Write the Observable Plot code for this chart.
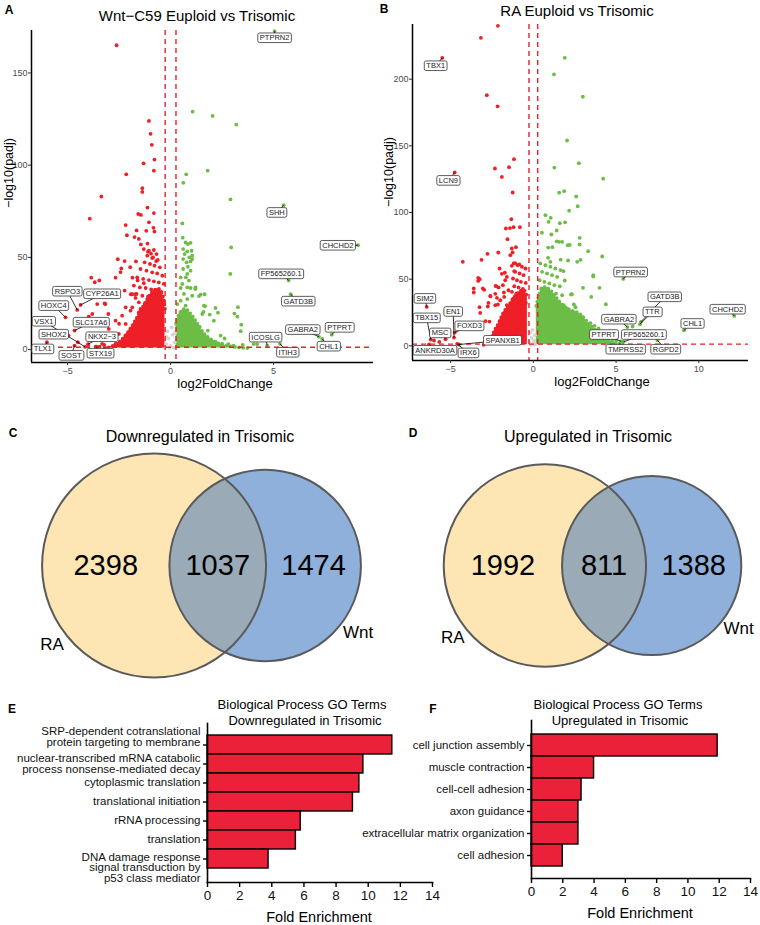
<!DOCTYPE html>
<html><head><meta charset="utf-8">
<script src="https://cdn.jsdelivr.net/npm/d3@7"></script>
<script src="https://cdn.jsdelivr.net/npm/@observablehq/plot@0.6"></script>
<style>
body{margin:0;background:#fff;}
#fig{position:relative;width:760px;height:925px;background:#fff;font-family:"Liberation Sans",Arial,Helvetica,sans-serif;overflow:hidden}
.t{position:absolute;white-space:nowrap;transform:translate(-50%,-50%);color:#000;line-height:1}
.r{transform:translate(-50%,-50%) rotate(-90deg)}
.b{font-weight:bold}
.p{position:absolute}
</style></head><body><div id="fig"></div>
<script>
// ---------- DATA ----------
// Panel A (Wnt-C59): [log2FoldChange, -log10(padj)]
const aDown = [
[-2.62,165],[-1.05,124],[-0.97,117],[-0.91,111],[-0.78,103],[-1.31,101],[-0.81,97],[-2.15,95],[-1.37,87.5],[-1.37,85.5],
[-3.36,83],[-3.92,71],[-1.12,77],[-1.57,73.5],[-1.44,73],[-0.81,74],[-1.05,69],[-2.18,67.5],[-1.65,64.6],[-0.83,66],
[-0.78,64],[-2.12,62],[-1.75,61],[-1.54,60],[-1.18,64.4],[-1.12,57.5],[-1.44,57],[-2.56,49],[-2.23,48],[-1.68,47.8],
[-2.39,44],[-1.96,44.7],[-2.67,39],[-3.85,39],[-3.46,37.5],[-3.68,36.5],[-3.2,25],[-1.93,30],[-1.71,30],[-2.23,32],
[-2.43,42],[-1.1,53],[-0.95,52],[-0.85,50],[-0.7,48],[-1.85,39],[-1.6,37.5],[-1.3,36],
[-1.30,54.5],[-1.05,53.6],[-0.81,54.0],[-0.68,51.8],[-1.13,50.9],[-0.89,49.6],[-0.62,48.6],[-1.26,47.3],[-1.0,46.4],[-0.78,45.5],
[-0.52,44.6],[-1.46,43.7],[-1.17,42.8],[-0.89,41.9],[-0.65,41.3],[-0.40,40.1],[-1.62,39.1],[-1.33,38.3],[-1.05,37.7],[-0.81,37.0],
[-0.57,36.4],[-0.33,35.6],[-1.78,34.7],[-1.49,33.7],[-1.21,33.4],[-0.94,32.6],[-0.68,31.9],[-0.45,31.2],[-1.65,30.2],[-1.37,29.2],
[-1.10,28.7],[-0.84,28.0],[-0.62,27.2],[-0.35,26.5],[-1.54,25.6],[-1.26,24.7],[-0.97,24.4],[-0.73,23.8],[-0.49,23.3],[-1.86,22.9],
[-1.46,22.0],[-1.13,21.5],
[-3.16,24.7],[-2.59,29.2],[-1.86,30],[-1.7,28],[-2.18,22.9],[-1.94,21.1],[-2.35,18.4],[-1.54,20.2],[-2.67,15.7],[-2.18,13.9],
[-1.86,11.2],[-3.0,11.2],[-2.51,8.5],[-1.54,6.7],[-2.83,5.8],[-2.18,4.0],[-3.32,3.1],[-3.56,24.7],[-3.02,19.3],[-3.8,19.3],
[-3.97,17.9],[-4.5,4],[-4.0,2.5],[-3.64,1.6],[-3.45,1.6],[-2.67,3.1],[-2.18,7.6],[-2.5,14],[-2.88,6.7],[-3.22,2.5]
];
const aUp = [
[1.07,129],[2.04,126.7],[3.19,122],[0.76,95],[1.8,97],[0.62,90.4],[2.91,81.4],[0.57,68.4],[0.59,60.7],[2.94,55.4],
[2.9,41],[3.27,23],[2.18,22.6],[1.67,23.5],[1.38,29],[1.65,30],[1.2,33],
[0.73,58.1],[0.84,57.2],[0.97,57.9],[0.61,54.5],[0.81,53.2],[0.68,51.8],[1.02,53.6],[0.91,50],[0.61,49.1],[0.78,47.3],
[1.05,49.1],[0.84,44.9],[0.61,43.7],[0.97,42.8],[0.49,39.1],[0.74,39.1],[0.89,37.4],[0.57,35.6],[0.81,33.7],[0.49,33.4],
[0.97,33.4],[1.21,33.7],[0.65,30.2],[1.05,29.2],[0.81,27.4],[0.49,26.5],[1.46,29.8],[0.33,24.7],[0.73,23.8],[1.62,23.8],
[1.21,32.9],[0.81,41],[0.97,47.8],[1.05,50.9],
[2.43,7.6],[2.62,6],[3.24,17.9],[3.43,13.5],[3.4,10],[2.2,4],[2.0,4.5],[1.7,5],[4.2,3],[3.06,2.2],
[3.5,2.6],[4.03,3],[1.54,19.3],[2.1,15.7],[1.4,12.5],[1.81,10.3],[2.8,3],[2.5,3.2],[1.6,20.5],[1.9,19],[2.3,20],[3.1,19.5]
];
const aNS = [[-0.2,3],[-0.1,6],[0,2],[0.1,8],[0.2,4],[-0.15,10],[0.05,12],[0.15,1],[-0.05,1],[-0.22,7],[0.22,9]];
// upper edge of the dense point clouds
const aDownCloud = [[-3.2,0.8],[-2.8,2],[-2.4,5],[-2.1,9],[-1.8,14],[-1.5,20],[-1.2,26],[-0.9,31],[-0.6,33],[-0.4,30],[-0.27,22]];
const aUpCloud = [[0.27,14],[0.45,20],[0.7,22],[1.0,19],[1.3,14],[1.6,9],[1.9,6],[2.3,3.5],[2.8,2],[3.3,1.2],[3.8,0.8]];
const aGenes = ["PTPRN2","SHH","CHCHD2","FP565260.1","GATD3B","RSPO3","CYP26A1","HOXC4","VSX1","SLC17A6","SHOX2","NKX2−3","TLX1","SOST","STX19","ICOSLG","ITIH3","GABRA2","PTPRT","CHL1"];
const aGeneFC = [5.05,5.49,9.1,5.73,5.83,-4.53,-4.37,-5.1,-4.15,-4.66,-4.95,-4.0,-6.0,-4.66,-3.6,4.69,5.31,7.2,7.82,7.36];
const aGeneP  = [172.7,78.3,56.6,37.5,30,21.5,24.2,17.5,1.5,10.3,7.6,3,4,2.2,1.6,2.2,3.1,7,8.1,5.8];

// Panel B (RA)
const bDown = [
[-2.14,240],[-3.17,231],[-2.81,188],[-2.16,179.6],[-2.32,133],[-1.47,134],[-1.17,140],[-1.9,126.7],[-1.25,115],[-1.33,95],
[-1.66,88],[-1.41,88.3],[-1.19,89],[-0.81,89],[-1.56,80],[-1.05,74],[-4.26,63],[-2.77,69],[-2.12,70],[-3.13,64.5],
[-1.39,68],[-1.3,73],[-1.25,70],[-2.04,58],[-1.9,54],[-3.33,51],[-3.33,48.7],[-3.6,43],[-3.6,40],[-3.05,43],
[-2.24,44.6],[-2.6,37.5],[-2.2,36],[-1.78,40],[-1.3,60],[-1.15,56],[-1.1,62],[-0.85,61],[-3.25,29],[-2.75,29.5],
[-2.14,31],[-3.8,15.4],[-6.0,4],[-2.71,32.2],[-2.59,37.2],[-2.3,39],[-2.1,43.8],[-1.72,54.8],[-1.7,49.2],[-1.84,45.5],
[-1.5,41.7],[-1.6,51.7],[-1.76,36.7],[-2.0,34.2],[-2.3,30.5],[-1.6,30.5],[-3.24,50],[-2.97,42],[-2.28,45],[-3.21,24.7],
[-2.89,18.6],[-2.65,18.2],[-5.68,2.9],
[-1.19,61.8],[-0.95,60.5],[-0.69,59.3],[-0.48,58.0],[-1.09,55.5],[-0.83,54.3],[-0.59,53.0],[-1.23,50.5],[-0.99,49.2],[-0.75,48.0],
[-0.46,47.2],[-1.15,44.7],[-0.89,43.8],[-0.63,42.7],[-1.29,40.5],[-1.03,39.2],[-0.79,38.2],[-0.53,37.2],[-1.19,35.5],[-0.95,34.2],
[-0.69,32.9],[-0.45,32.2],[-1.09,30.5],[-0.83,29.2],[-0.59,28.0],[-1.27,28.0]
];
const bUp = [
[1.9,216],[1.25,203.6],[2.99,186.8],[2.04,154],[2.75,137],[1.27,133.7],[4.22,125.4],[1.56,114.9],[1.86,116],[2.59,112],
[2.68,104.7],[2.16,101.4],[0.73,98],[1.05,96],[0.92,93],[1.6,92],[1.92,92.6],[0.52,84.8],[1.09,83.5],[1.41,86.5],
[1.41,78.4],[1.55,78],[2.8,81],[2.8,76],[2.2,75.7],[3.31,71],[4.16,67],[0.9,73.7],[1.15,74],[0.89,66],
[1.03,63],[1.65,64.7],[2.85,64.5],[2.65,63],[2.08,75.5],[1.74,78],[2.1,64],[1.82,56],[3.62,53],[3.62,52],
[3.0,43.5],[3.5,36.7],[4.0,43.5],[4.38,31.2],[2.28,38.5],[2.33,38.7],[2.45,31],[2.55,29],[1.9,49],
[3.45,17],[3.7,15],[3.94,13],[2.75,19],[2.85,23],[6.0,14.5],[4.5,8],[4.8,5],[5.0,4],[4.2,10],
[0.42,61.8],[0.73,60.5],[1.03,59.3],[1.33,58.0],[1.64,56.8],[0.53,55.5],[0.83,54.3],[1.13,53.0],[1.44,51.7],[0.38,49.2],
[0.67,48.0],[0.97,46.8],[1.27,45.5],[1.6,44.7],[0.48,43.0],[0.77,41.7],[1.07,40.5],[1.37,39.2],[1.74,38.0],[0.34,36.7],
[0.63,35.5],[0.93,34.2],[1.23,32.9],[1.54,31.7],[1.84,30.5],[0.42,30.5],[0.73,29.2],[1.03,28.0],[2.04,28.0]
];
const bNS = [[-0.25,3],[-0.1,6],[0,2],[0.1,8],[0.05,4],[-0.2,10],[-0.05,12],[0.1,1],[-0.15,1]];
const bDownCloud = [[-3.0,0.8],[-2.6,4],[-2.4,10],[-2.1,17],[-1.8,25],[-1.5,30],[-1.2,36],[-0.9,40],[-0.6,42],[-0.36,36]];
const bUpCloud = [[0.18,30],[0.4,40],[0.7,44],[1.0,42],[1.4,36],[1.8,30],[2.2,27],[2.8,24],[3.4,16],[4.0,9],[4.6,4],[5.2,0.8]];
const bGenes = ["TBX1","LCN9","SIM2","TBX15","EN1","FOXD3","MSC","SPANXB1","ANKRD30A","IRX6","PTPRN2","GATD3B","TTR","GABRA2","CHL1","CHCHD2","PTPRT","FP565260.1","TMPRSS2","RGPD2"];
const bGeneFC = [-5.5,-4.75,-6.44,-6.2,-4.79,-4.75,-5.3,-4.5,-6.3,-4.6,5.43,6.5,6.44,5.68,9.1,12.14,5.31,5.45,5.2,7.5];
const bGeneP  = [216,130,29.2,4.7,6.2,10,5,1,1,1.5,50.2,18,16.2,14.1,11.6,22.4,3.4,3.0,1.5,4.1];

const fcCutoff = [-0.263, 0.263];
const padjCutoff = 1.3;
const aXTicks = [-5,0,5], aYTicks = [0,50,100,150];
const bXTicks = [-5,0,5,10], bYTicks = [0,50,100,150,200];

// Venn counts: [RA only, both, Wnt only]
const vennSets = ["RA","Wnt"];
const cCounts = [2398,1037,1474];
const dCounts = [1992,811,1388];

// GO bars
const eTerms = ["SRP-dependent cotranslational\nprotein targeting to membrane","nuclear-transcribed mRNA catabolic\nprocess nonsense-mediated decay","cytoplasmic translation","translational initiation","rRNA processing","translation","DNA damage response\nsignal transduction by\np53 class mediator"];
const eFold = [11.5,9.7,9.45,9.05,5.8,5.5,3.8];
const fTerms = ["cell junction assembly","muscle contraction","cell-cell adhesion","axon guidance","extracellular matrix organization","cell adhesion"];
const fFold = [11.9,4.0,3.2,3.0,3.0,2.0];
const barTicks = [0,2,4,6,8,10,12,14];

// ---------- LAYOUT / STYLE ----------
const FONT = "'Liberation Sans', Arial, Helvetica, sans-serif";
const RED = "#ee1f26", GREEN = "#6bbd45", GRAY = "#d4d4d4", BAR = "#eb2039";
const YEL = "#fde5b4", BLU = "#8fb0db", OVL = "#9aaab6";
// repelled label positions (data units)
const aLabelAt = [[5.05,169],[5.16,74.3],[8.12,56.5],[5.37,41],[6.2,26.2],[-5.01,31.6],[-3.32,30.2],[-5.67,23.8],[-6.15,15.3],[-3.85,14.8],[-5.67,8.3],[-3.33,6.9],[-6.2,0.3],[-4.82,-3.2],[-3.4,-2],[4.61,6.7],[5.69,-1.5],[6.42,10.8],[8.2,12],[7.68,1.8]];
const bLabelAt = [[-5.9,210],[-5.13,124],[-6.55,35.5],[-6.44,20.9],[-4.84,25.7],[-3.86,14.9],[-5.64,9.6],[-1.86,4.1],[-5.94,-3.4],[-3.92,-5.4],[5.88,55.3],[7.94,36.7],[7.19,25.4],[5.17,19.9],[9.62,16.7],[11.74,27.4],[4.26,8.4],[6.68,8.4],[5.58,-2.6],[8.0,-2.6]];
// vertical nudges (px) of the GO term labels relative to their bar
const eLabelNudge = [-8,0,0,0,0,0,9];
const fLabelNudge = [0,0,0,0,0,0];

const fig = document.getElementById("fig");
function place(el, left, top) {
  const d = document.createElement("div");
  d.className = "p"; d.style.left = left + "px"; d.style.top = top + "px";
  d.appendChild(el); fig.appendChild(d); return el;
}
function txt(s, x, y, size, cls = "") {
  const d = document.createElement("div");
  d.className = "t " + cls; d.textContent = s;
  d.style.left = x + "px"; d.style.top = y + "px"; d.style.fontSize = size + "px";
  fig.appendChild(d);
}
const pts = arr => arr.map(([x, y]) => ({x, y}));

function volcano(o) {
  const genes = o.genes.map((g, i) => ({g, x: o.gfc[i], y: o.gp[i], lx: o.lab[i][0], ly: o.lab[i][1]}));
  const cloud = arr => arr.map(([x, y]) => ({x, y1: 0.8, y2: y}));
  const dC = cloud(o.downCloud), uC = cloud(o.upCloud);
  const [x0] = o.xd, [y0] = o.yd;
  const bead = c => ({x: "x", y: "y2", stroke: c, strokeWidth: 3.8, strokeLinecap: "round", strokeDasharray: "0,4.2", curve: "monotone-x"});
  return Plot.plot({
    width: 380, height: 395,
    marginTop: o.m[0], marginRight: o.m[1], marginBottom: o.m[2], marginLeft: o.m[3],
    x: {domain: o.xd}, y: {domain: o.yd},
    style: {fontFamily: FONT, background: "transparent", overflow: "visible"},
    marks: [
      Plot.areaY(dC, {x: "x", y1: "y1", y2: "y2", fill: RED, curve: "monotone-x"}),
      Plot.areaY(uC, {x: "x", y1: "y1", y2: "y2", fill: GREEN, curve: "monotone-x"}),
      Plot.lineY(dC, bead(RED)),
      Plot.lineY(uC, bead(GREEN)),
      Plot.dot(pts(o.ns), {x: "x", y: "y", r: 1.9, fill: GRAY}),
      Plot.dot(pts(o.down), {x: "x", y: "y", r: 1.9, fill: RED}),
      Plot.dot(pts(o.up), {x: "x", y: "y", r: 1.9, fill: GREEN}),
      Plot.dot(genes, {x: "x", y: "y", r: 1.9, fill: d => d.x < 0 ? RED : GREEN}),
      Plot.ruleX(fcCutoff, {stroke: RED, strokeWidth: 1.4, strokeDasharray: "5,4"}),
      Plot.ruleY([padjCutoff], {stroke: RED, strokeWidth: 1.4, strokeDasharray: "5,4"}),
      Plot.ruleX([x0], {stroke: "black", strokeWidth: 1.5}),
      Plot.ruleY([y0], {stroke: "black", strokeWidth: 1.5}),
      Plot.axisX({ticks: o.xt, tickSize: 3, tickPadding: 2, fontSize: 9, fill: "#4d4d4d", stroke: "#333", label: null}),
      Plot.axisY({ticks: o.yt, tickSize: 3, tickPadding: 1, fontSize: 9, fill: "#4d4d4d", stroke: "#333", label: null}),
      Plot.link(genes, {x1: "x", y1: "y", x2: "lx", y2: "ly", stroke: "black", strokeWidth: 0.8}),
      Plot.text(genes, {x: "lx", y: "ly", text: "g", fontSize: 7.5, fill: "#1a1a1a", ariaLabel: "gene-labels"})
    ]
  });
}
function boxLabels(svg) {
  const set = new Set([...svg.querySelectorAll('text[aria-label="gene-labels"], [aria-label="gene-labels"] text, g[aria-label="text"] text')]);
  set.forEach(t => {
    const b = t.getBBox();
    const r = document.createElementNS("http://www.w3.org/2000/svg", "rect");
    r.setAttribute("x", b.x - 2); r.setAttribute("y", b.y - 0.3);
    r.setAttribute("width", b.width + 4); r.setAttribute("height", b.height + 0.6);
    r.setAttribute("rx", 1.8); r.setAttribute("fill", "white");
    r.setAttribute("stroke", "#333"); r.setAttribute("stroke-width", 0.8);
    if (t.getAttribute("transform")) r.setAttribute("transform", t.getAttribute("transform"));
    t.parentNode.insertBefore(r, t);
  });
}

const R_MAX = 1.911 * Math.sqrt(4000);
function venn(counts, midX, cy, id) {
  const [a, ab, b] = counts;
  const t1 = a + ab, t2 = b + ab;
  const rS = d3.scaleSqrt().domain([0, 4000]).range([0, R_MAX]);
  const r1 = rS(t1), r2 = rS(t2);
  const target = Math.PI * r1 * r1 * ab / t1;
  const lens = d => {
    const A1 = r1 * r1 * Math.acos((d * d + r1 * r1 - r2 * r2) / (2 * d * r1));
    const A2 = r2 * r2 * Math.acos((d * d + r2 * r2 - r1 * r1) / (2 * d * r2));
    const k = 0.5 * Math.sqrt((-d + r1 + r2) * (d + r1 - r2) * (d - r1 + r2) * (d + r1 + r2));
    return A1 + A2 - k;
  };
  let lo = Math.abs(r1 - r2) + 1e-6, hi = r1 + r2 - 1e-6;
  for (let i = 0; i < 60; i++) { const m = (lo + hi) / 2; if (lens(m) > target) lo = m; else hi = m; }
  const d = (lo + hi) / 2;
  const L = midX - (r1 + d + r2) / 2, c1 = L + r1, c2 = c1 + d;
  const circles = [{set: vennSets[0], cx: c1, cy, total: t1}, {set: vennSets[1], cx: c2, cy, total: t2}];
  const nums = [
    {v: a, x: (L + c2 - r2) / 2},
    {v: ab, x: (c2 - r2 + c1 + r1) / 2},
    {v: b, x: (c1 + r1 + c2 + r2) / 2}
  ];
  const names = [{t: vennSets[0], x: c1 - 0.91 * r1, y: cy + 0.71 * r1}, {t: vennSets[1], x: c2 + 0.97 * r2, y: cy + 0.70 * r2}];
  const plot = Plot.plot({
    width: 380, height: 270, margin: 0,
    x: {domain: [0, 380], range: [0, 380], axis: null},
    y: {domain: [0, 270], range: [0, 270], axis: null},
    r: {type: "sqrt", domain: [0, 4000], range: [0, R_MAX]},
    style: {fontFamily: FONT, background: "transparent", overflow: "visible"},
    marks: [
      Plot.dot([circles[0]], {x: "cx", y: "cy", r: "total", fill: YEL, sort: null}),
      Plot.dot([circles[1]], {x: "cx", y: "cy", r: "total", fill: BLU, sort: null}),
      Plot.dot([circles[0]], {x: "cx", y: "cy", r: "total", fill: OVL, sort: null, ariaLabel: "venn-overlap"}),
      Plot.dot(circles, {x: "cx", y: "cy", r: "total", fill: "none", stroke: "#5a5a5a", strokeWidth: 2, sort: null}),
      Plot.text(nums, {x: "x", y: () => cy, text: d => String(d.v), fontSize: 29, fill: "black"}),
      Plot.text(names, {x: "x", y: "y", text: "t", fontSize: 17, fill: "black"})
    ]
  });
  // clip the overlap disc to the second circle
  const sx = plot.scale("x"), sy = plot.scale("y"), sr = plot.scale("r");
  const NS = "http://www.w3.org/2000/svg";
  const defs = document.createElementNS(NS, "defs");
  const cp = document.createElementNS(NS, "clipPath"); cp.setAttribute("id", id);
  cp.setAttribute("clipPathUnits", "userSpaceOnUse");
  const cc = document.createElementNS(NS, "circle");
  cc.setAttribute("cx", sx.apply(c2)); cc.setAttribute("cy", sy.apply(cy)); cc.setAttribute("r", sr.apply(t2));
  cp.appendChild(cc); defs.appendChild(cp); plot.insertBefore(defs, plot.firstChild);
  const groups = plot.querySelectorAll('g[aria-label="dot"]');
  const target2 = plot.querySelector('[aria-label="venn-overlap"]');
  const g = target2 ? (target2.tagName.toLowerCase() === "g" ? target2 : target2.parentNode) : groups[2];
  if (g) g.setAttribute("clip-path", `url(#${id})`);
  return plot;
}

function bars(terms, fold, nudge, o) {
  const data = terms.map((term, i) => ({term, fold: fold[i]}));
  const labels = terms.map((term, i) =>
    Plot.text([data[i]], {x: () => 0, y: "term", text: "term", dx: -7, dy: nudge[i], textAnchor: "end",
      fontSize: o.fs, lineHeight: 0.9, fill: "#111"}));
  return Plot.plot({
    width: o.w, height: 230,
    marginTop: o.m[0], marginRight: o.m[1], marginBottom: o.m[2], marginLeft: o.m[3],
    x: {domain: [0, 14]},
    y: {domain: terms, range: o.yr, padding: 0},
    style: {fontFamily: FONT, background: "transparent", overflow: "visible"},
    marks: [
      Plot.barX(data, {x: "fold", y: "term", fill: BAR, stroke: "black", strokeWidth: 1.4}),
      Plot.frame({anchor: "left", stroke: "black", strokeWidth: 1.6}),
      Plot.frame({anchor: "bottom", stroke: "black", strokeWidth: 1.6}),
      Plot.axisX({ticks: barTicks, tickSize: 5, tickPadding: 3, fontSize: 13.5, fill: "#111", stroke: "black", strokeWidth: 1.4, label: null}),
      Plot.axisY({tickSize: 4, tickFormat: () => "", stroke: "black", strokeWidth: 1.4, label: null}),
      ...labels
    ]
  });
}

// ---------- RENDER ----------
const pa = place(volcano({down: aDown, up: aUp, ns: aNS, downCloud: aDownCloud, upCloud: aUpCloud,
  genes: aGenes, gfc: aGeneFC, gp: aGeneP, lab: aLabelAt,
  xd: [-6.75, 9.85], yd: [-7, 173], m: [30, 7, 33, 31], xt: aXTicks, yt: aYTicks}), 0, 0);
boxLabels(pa);
const pb = place(volcano({down: bDown, up: bUp, ns: bNS, downCloud: bDownCloud, upCloud: bUpCloud,
  genes: bGenes, gfc: bGeneFC, gp: bGeneP, lab: bLabelAt,
  xd: [-7.3, 13.0], yd: [-11, 241], m: [24, 12, 35, 32], xt: bXTicks, yt: bYTicks}), 380, 0);
boxLabels(pb);

place(venn(cCounts, 201, 145, "clipC"), 0, 420);
place(venn(dCounts, 212, 145, "clipD"), 380, 420);

place(bars(eTerms, eFold, eLabelNudge, {w: 440, fs: 11.5, m: [28, 8, 43, 207], yr: [38, 175]}), 0, 695);
place(bars(fTerms, fFold, fLabelNudge, {w: 457, fs: 11.5, m: [25, 7, 47, 231], yr: [37, 172]}), 300, 695);

// texts
txt("A", 9, 10, 12, "b");
txt("Wnt−C59 Euploid vs Trisomic", 197, 15, 15);
txt("−log10(padj)", 9, 173, 12.5, "r");
txt("log2FoldChange", 225, 383, 13);
txt("B", 384, 9, 12, "b");
txt("RA Euploid vs Trisomic", 577, 10, 15);
txt("−log10(padj)", 389, 172, 12.5, "r");
txt("log2FoldChange", 602, 381, 13);
txt("C", 13, 433, 12, "b");
txt("Downregulated in Trisomic", 200, 437, 16);
txt("D", 413, 433, 12, "b");
txt("Upregulated in Trisomic", 588, 437, 16);
txt("E", 12, 709, 12, "b");
txt("Biological Process GO Terms", 302, 704, 13);
txt("Downregulated in Trisomic", 305, 720, 13);
txt("F", 433, 709, 12, "b");
txt("Biological Process GO Terms", 618, 704, 13);
txt("Upregulated in Trisomic", 620, 720, 13);
txt("Fold Enrichment", 319, 917, 14.5);
txt("Fold Enrichment", 640, 913, 14.5);
</script></body></html>
